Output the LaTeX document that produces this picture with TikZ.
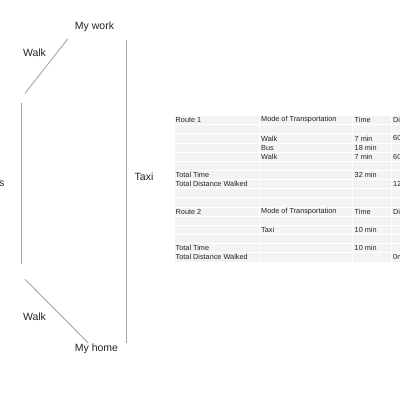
\documentclass[tikz,border=0pt]{standalone}
\usepackage{fontspec}
\setmainfont{Liberation Sans}
\usetikzlibrary{positioning}
\definecolor{linegray}{RGB}{165,165,165}
\definecolor{cellgray}{RGB}{243,243,243}
\definecolor{textdark}{RGB}{35,35,35}
\tikzset{
  placelabel/.style = {font=\fontsize{10.5}{12}\selectfont, text=textdark, inner sep=1pt},
  legline/.style = {draw=linegray, line width=0.9pt},
  cellbox/.style = {fill=cellgray, draw=white, line width=0.8pt},
  celltext/.style = {anchor=west, inner sep=0pt, font=\fontsize{7.3}{8}\selectfont, text=textdark}
}

\begin{document}
\begin{tikzpicture}[x=1pt, y=-1pt]
\useasboundingbox (0,0) rectangle (400,400);

% places
\node[placelabel] (work) at (94.5,27) {My work};
\node[placelabel] (home) at (96.5,349) {My home};

% route 1 legs
\node[placelabel] (walkup) at (34.5,53) {Walk};
\node[placelabel, anchor=east] (bus) at (5.5,183) {Bus};
\node[placelabel] (walkdown) at (34.5,317) {Walk};

% route 2 leg
\node[placelabel] (taxi) at (144,177) {Taxi};

\coordinate (walkupA) at (25,93.3);
\coordinate (walkupB) at (67.7,39);
\coordinate (busA) at (21,103);
\coordinate (busB) at (21,263.5);
\coordinate (walkdownA) at (25,279.3);
\coordinate (walkdownB) at (88.3,343);
\coordinate (taxiA) at (126,39.5);
\coordinate (taxiB) at (126,343.3);

\draw[legline] (walkupA) -- (walkupB);
\draw[legline] (busA) -- (busB);
\draw[legline] (walkdownA) -- (walkdownB);
\draw[legline] (taxiA) -- (taxiB);

% table cells
\foreach \r in {0,...,15}
  \foreach \x/\w in {174/85.5, 259.5/93, 352.5/39, 391.5/70}
    \draw[cellbox] (\x,115.5+9.15*\r) rectangle ++(\w,9.15);

% table text
\foreach \r/\ta/\tb/\tc/\td in {
    0/Route 1/Mode of Transportation/Time/Distance Walked,
    2//Walk/7 min/600m,
    3//Bus/18 min/,
    4//Walk/7 min/600m,
    6/Total Time//32 min/,
    7/Total Distance Walked///1200m,
    10/Route 2/Mode of Transportation/Time/Distance Walked,
    12//Taxi/10 min/,
    14/Total Time//10 min/,
    15/Total Distance Walked///0m}
{
  \node[celltext] (cell-\r-a) at (175.5,120.1+9.15*\r) {\ta};
  \node[celltext] (cell-\r-b) at (261,120.1+9.15*\r) {\tb};
  \node[celltext] (cell-\r-c) at (354.5,120.1+9.15*\r) {\tc};
  \node[celltext] (cell-\r-d) at (393,120.1+9.15*\r) {\td};
}
\end{tikzpicture}
\end{document}
